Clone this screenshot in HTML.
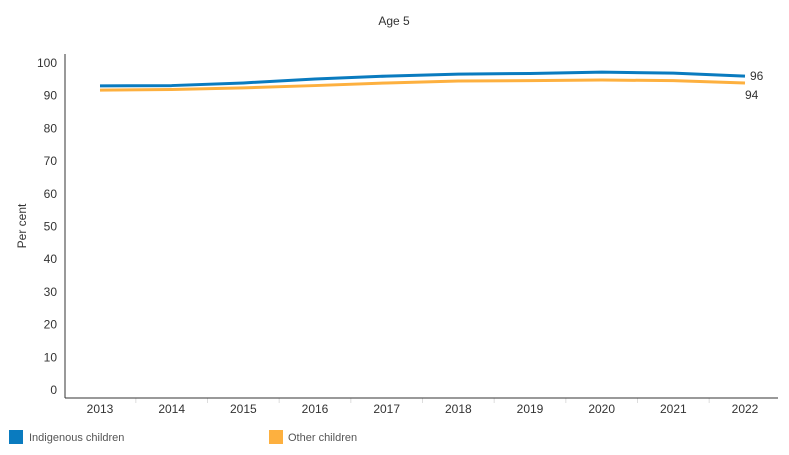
<!DOCTYPE html>
<html><head><meta charset="utf-8"><style>
body{margin:0;background:#fff;font-family:"Liberation Sans",sans-serif;}
svg text{font-family:"Liberation Sans",sans-serif;}
</style></head><body>
<svg width="789" height="450">
<text x="394" y="25" font-size="12" fill="#333" text-anchor="middle">Age 5</text>
<text transform="translate(26,226) rotate(-90)" font-size="12" fill="#333" text-anchor="middle">Per cent</text>
<g id="yt"></g>
<g id="xt"></g>
<line x1="65" y1="54" x2="65" y2="398" stroke="#333"/>
<line x1="65" y1="398" x2="778" y2="398" stroke="#333"/>
<g id="lines"></g>
<g>
<rect x="9" y="430" width="14" height="14" fill="#0a7bbf"/>
<text x="29" y="441" font-size="11" fill="#555">Indigenous children</text>
<rect x="269" y="430" width="14" height="14" fill="#fdb03f"/>
<text x="288" y="441" font-size="11" fill="#555">Other children</text>
</g>
</svg>
<script>
const years=["2013","2014","2015","2016","2017","2018","2019","2020","2021","2022"];
const indigenous=[93.0,93.1,93.9,95.1,96.0,96.6,96.8,97.2,96.9,96.0];
const other=[91.7,91.9,92.4,93.1,93.9,94.5,94.6,94.8,94.6,93.9];
const yTicks=[0,10,20,30,40,50,60,70,80,90,100];
const ns="http://www.w3.org/2000/svg";
const xS=i=>100+i*(645/9);
const yS=v=>390-v*3.27;
function mk(t,a,p){const e=document.createElementNS(ns,t);for(const k in a)e.setAttribute(k,a[k]);p.appendChild(e);return e;}
const yt=document.getElementById('yt');
yTicks.forEach(v=>{const t=mk('text',{x:57,y:yS(v)+4,'font-size':12,fill:'#333','text-anchor':'end'},yt);t.textContent=v;

});
const xt=document.getElementById('xt');
years.forEach((y,i)=>{const t=mk('text',{x:xS(i),y:413,'font-size':12,fill:'#333','text-anchor':'middle'},xt);t.textContent=y;


if(i>0){const l=mk('line',{x1:xS(i)-645/18,y1:398,x2:xS(i)-645/18,y2:403,stroke:'#ddd'},xt);

}});
const g=document.getElementById('lines');
function line(vals,col,name){const d=vals.map((v,i)=>(i?'L':'M')+xS(i)+','+yS(v)).join(' ');
const p=mk('path',{d:d,fill:'none',stroke:col,'stroke-width':3,'stroke-linejoin':'round'},g);

}
line(other,'#fdb03f','line-other');
line(indigenous,'#0a7bbf','line-indigenous');
const n=years.length-1;
const l1=mk('text',{x:xS(n)+5,y:yS(indigenous[n])+4,'font-size':12,fill:'#333'},g);l1.textContent=Math.round(indigenous[n]);


const l2=mk('text',{x:xS(n),y:yS(other[n])+16,'font-size':12,fill:'#333'},g);l2.textContent=Math.round(other[n]);


</script>
</body></html>
